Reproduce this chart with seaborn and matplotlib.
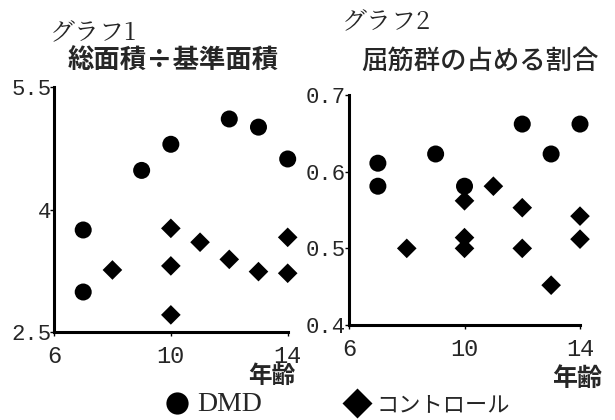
import pandas as pd
import numpy as np
import matplotlib
matplotlib.use('Agg')
import matplotlib.pyplot as plt
import seaborn as sns

# グラフ1: 総面積÷基準面積
dmd_age_1 = [7, 7, 9, 10, 12, 13, 14]
dmd_val_1 = [3.75, 2.99, 4.48, 4.80, 5.11, 5.01, 4.62]
ctl_age_1 = [8, 10, 10, 10, 11, 12, 13, 14, 14]
ctl_val_1 = [3.26, 3.77, 3.31, 2.71, 3.60, 3.39, 3.24, 3.22, 3.66]

# グラフ2: 屈筋群の占める割合
dmd_age_2 = [7, 7, 9, 10, 12, 13, 14]
dmd_val_2 = [0.611, 0.581, 0.623, 0.581, 0.662, 0.623, 0.662]
ctl_age_2 = [8, 10, 10, 10, 11, 12, 12, 13, 14, 14]
ctl_val_2 = [0.500, 0.562, 0.514, 0.500, 0.581, 0.553, 0.500, 0.452, 0.542, 0.512]

groups = ['DMD', 'コントロール']
x_ticks = [6, 10, 14]
y_ticks_1 = [2.5, 4, 5.5]
y_ticks_2 = [0.4, 0.5, 0.6, 0.7]

df1 = pd.DataFrame({'年齢': dmd_age_1 + ctl_age_1,
                    'val': dmd_val_1 + ctl_val_1,
                    'group': [groups[0]] * len(dmd_age_1) + [groups[1]] * len(ctl_age_1)})
df2 = pd.DataFrame({'年齢': dmd_age_2 + ctl_age_2,
                    'val': dmd_val_2 + ctl_val_2,
                    'group': [groups[0]] * len(dmd_age_2) + [groups[1]] * len(ctl_age_2)})

sns.set_style('white')
plt.rcParams['font.family'] = ['Noto Sans CJK JP', 'DejaVu Sans']

fig = plt.figure(figsize=(6.15, 4.2), dpi=100)
ax1 = fig.add_axes([0.0878, 0.2095, 0.380, 0.583])
ax2 = fig.add_axes([0.5675, 0.226, 0.3756, 0.548])

markers = {groups[0]: 'o', groups[1]: 'D'}
pal = {groups[0]: 'black', groups[1]: 'black'}
msizes = {groups[0]: 150, groups[1]: 100}

for ax, df, yt, ylim in [(ax1, df1, y_ticks_1, (2.5, 5.5)),
                         (ax2, df2, y_ticks_2, (0.4, 0.7))]:
    sns.scatterplot(data=df, x='年齢', y='val', hue='group', style='group',
                    size='group', sizes=msizes,
                    markers=markers, palette=pal, edgecolor='none',
                    ax=ax, legend=(ax is ax1), clip_on=False, zorder=3)
    ax.set_xlim(6, 14)
    ax.set_ylim(*ylim)
    ax.set_xticks(x_ticks)
    ax.set_yticks(yt)
    ax.set_xlabel('')
    ax.set_ylabel('')
    sns.despine(ax=ax)
    for s in ['left', 'bottom']:
        ax.spines[s].set_linewidth(2.2)
        ax.spines[s].set_color('black')
    ax.tick_params(axis='both', direction='out', length=3, width=1,
                   color='black', left=True, bottom=True)
    ax.tick_params(axis='x', labelsize=17, pad=6)
    ax.tick_params(axis='y', labelsize=16, pad=-1)
    for lab in ax.get_xticklabels() + ax.get_yticklabels():
        lab.set_family('Liberation Mono')

ax1.set_yticklabels(['2.5', '4', '5.5'])
ax2.set_yticklabels(['0.4', '0.5', '0.6', '0.7'])

handles, labels = ax1.get_legend_handles_labels()
ax1.get_legend().remove()
handles[0].set_markersize(16)
handles[1].set_markersize(15)
leg = fig.legend(handles, labels, loc='center left', bbox_to_anchor=(0.246, 0.036),
                 ncol=2, frameon=False, fontsize=17, handletextpad=0.25,
                 columnspacing=3.4, handlelength=1.2, borderpad=0)
leg.get_texts()[0].set_family(['Liberation Serif', 'DejaVu Sans'])
leg.get_texts()[0].set_fontsize(20)
leg.get_texts()[1].set_fontsize(16)

fig.text(0.081, 0.905, 'グラフ1', fontsize=18, family=['Noto Serif CJK JP', 'Noto Sans CJK JP'])
fig.text(0.11, 0.835, '総面積÷基準面積', fontsize=19, fontweight='bold')
fig.text(0.556, 0.93, 'グラフ2', fontsize=18, family=['Noto Serif CJK JP', 'Noto Sans CJK JP'])
fig.text(0.587, 0.835, '屈筋群の占める割合', fontsize=19, fontweight='medium')
fig.text(0.403, 0.087, '年齢', fontsize=17, fontweight='bold')
fig.text(0.898, 0.082, '年齢', fontsize=18, fontweight='bold')

fig.savefig('out.png', dpi=100)
